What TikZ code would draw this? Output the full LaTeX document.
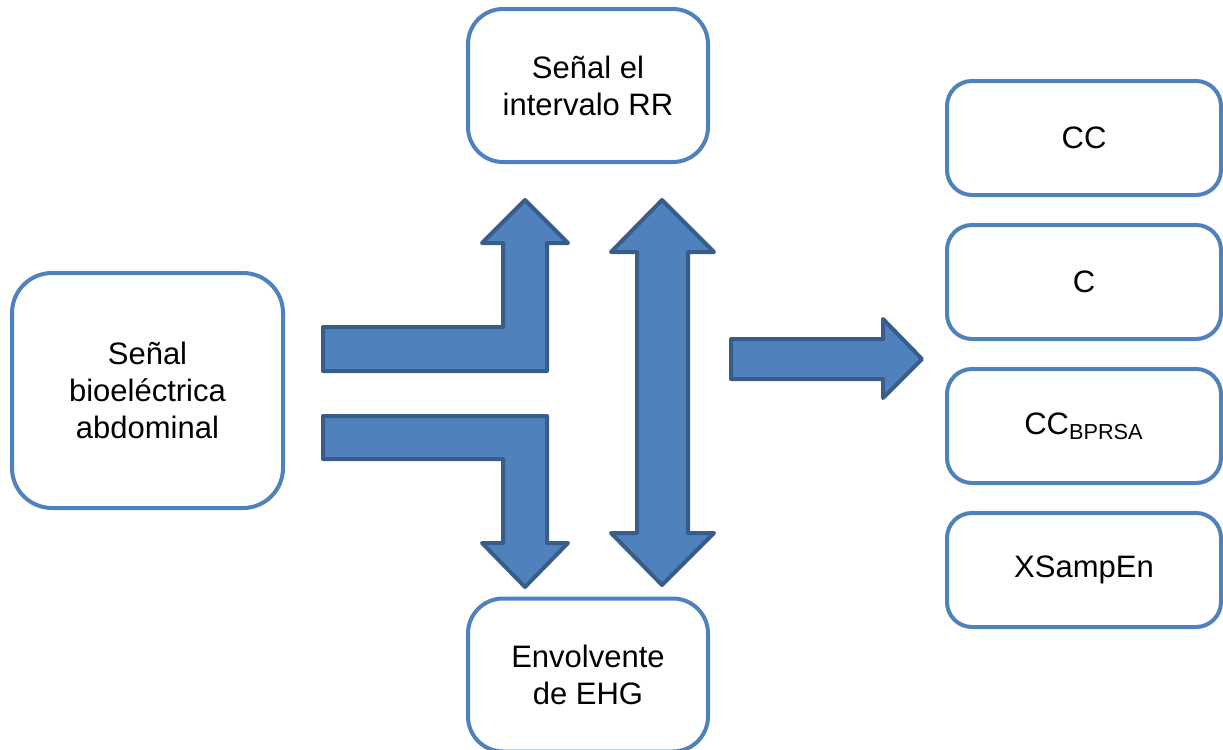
\documentclass[tikz,border=0pt]{standalone}
\usepackage{fontspec}
\setmainfont{Liberation Sans}
\usetikzlibrary{positioning}
\definecolor{boxblue}{HTML}{4F81BD}
\definecolor{edgeblue}{HTML}{385D8A}

\begin{document}
\begin{tikzpicture}[x=0.5pt, y=-0.5pt,
    every node/.style={font=\fontsize{15.5}{18.5}\selectfont},
    box/.style={draw=boxblue, line width=2pt, rounded corners=#1, fill=white,
      align=center, inner sep=0pt},
    box/.default=12.5pt,
    blockarrow/.style={fill=boxblue, draw=edgeblue, line width=2pt, line join=round}]
    \useasboundingbox (0,0) rectangle (1223,750);
    % input and intermediate signals
    \node[box=20pt, minimum width=135.5pt, minimum height=117.5pt] (abdominal) at (147.5,390.5) {Señal\\bioeléctrica\\abdominal};
    \node[box=17.5pt, minimum width=120pt, minimum height=76.5pt] (rr) at (588,85.5) {Señal el\\intervalo RR};
    \node[box=17.5pt, minimum width=120pt, minimum height=76.5pt] (ehg) at (588,675) {Envolvente\\de EHG};
    % measures
    \node[box, minimum width=137pt, minimum height=57pt] (cc) at (1084,138) {CC};
    \node[box, minimum width=137pt, minimum height=57pt, below=13pt of cc] (c) {C};
    \node[box, minimum width=137pt, minimum height=57pt, below=13pt of c] (bprsa) {CC\textsubscript{BPRSA}};
    \node[box, minimum width=137pt, minimum height=57pt, below=13pt of bprsa] (xsampen) {XSampEn};
    % block arrows
    \draw[blockarrow] (323,327) -- (503,327) -- (503,243) -- (482,243) -- (525,200) -- (568,243)
      -- (547,243) -- (547,371) -- (323,371) -- cycle;
    \draw[blockarrow] (323,416) -- (547,416) -- (547,543) -- (568,543) -- (525,587) -- (482,543)
      -- (503,543) -- (503,459) -- (323,459) -- cycle;
    \draw[blockarrow] (637,252) -- (611,252) -- (662,200) -- (714,252) -- (688,252) -- (688,533)
      -- (714,533) -- (662,585) -- (611,533) -- (637,533) -- cycle;
    \draw[blockarrow] (731,339) -- (883,339) -- (883,319) -- (922,359) -- (883,398) -- (883,379)
      -- (731,379) -- cycle;
\end{tikzpicture}
\end{document}
